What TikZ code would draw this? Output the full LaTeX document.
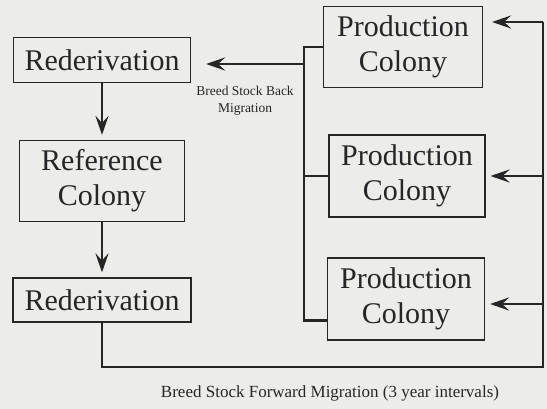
\documentclass[tikz,border=0pt]{standalone}
\usepackage{fontspec}
\setmainfont{Liberation Serif}
\usetikzlibrary{arrows.meta,positioning}
\definecolor{paper}{RGB}{236,236,233}
\definecolor{ink}{RGB}{38,38,38}
\tikzset{
  box/.style={draw=ink, line width=1.1pt, text=ink, inner sep=0pt, align=center,
    font=\fontsize{30}{35}\selectfont},
  link/.style={draw=ink, line width=2.8pt},
  arr/.style={link, -{Stealth[length=19pt,width=13pt,inset=7pt]}},
  note/.style={text=ink, align=center}
}
\begin{document}
\begin{tikzpicture}[x=1pt,y=-1pt]
\fill[paper] (0,0) rectangle (547,409);
\useasboundingbox (0,0) rectangle (547,409);
% left column
\node[box, minimum width=177pt, minimum height=45pt] (red1) at (102,60) {Rederivation};
\node[box, minimum width=165pt, minimum height=81pt] (refcol) at (102,181) {Reference\\Colony};
\node[box, minimum width=178pt, minimum height=44pt] (red2) at (102,300) {Rederivation};
% production colonies
\node[box, minimum width=159pt, minimum height=81pt] (prod1) at (403,47) {Production\\Colony};
\node[box, minimum width=156pt, minimum height=82pt] (prod2) at (407,176) {Production\\Colony};
\node[box, minimum width=157pt, minimum height=82pt] (prod3) at (406,299) {Production\\Colony};
\draw[arr, shorten >=5pt] (red1) -- (refcol);
\draw[arr, shorten >=5pt] (refcol) -- (red2);
% back migration
\coordinate (brk) at (304,64);
\draw[link] (prod1.west) -| (brk) |- ([yshift=20pt]prod3.south west);
\draw[link] (prod2.west -| brk) -- (prod2.west);
\draw[arr, shorten >=15pt] (brk) -- (brk -| red1.east);
\node[note, font=\fontsize{13.5}{17}\selectfont] (backlbl) at (245,101) {Breed Stock Back\\Migration};
% forward migration
\coordinate (rtop) at (543,22);
\coordinate (rbot) at (543,367);
\draw[link] (red2.south) |- (rbot) -- (rtop);
\draw[arr, shorten >=9pt] (rtop) -- (rtop -| prod1.east);
\draw[arr, shorten >=5pt] (prod2.east -| rtop) -- (prod2.east);
\draw[arr, shorten >=5pt] ([yshift=-5pt]prod3.east -| rtop) -- ([yshift=-5pt]prod3.east);
\node[note, font=\fontsize{17}{20}\selectfont] (fwdlbl) at (330,393) {Breed Stock Forward Migration (3 year intervals)};
\end{tikzpicture}
\end{document}
